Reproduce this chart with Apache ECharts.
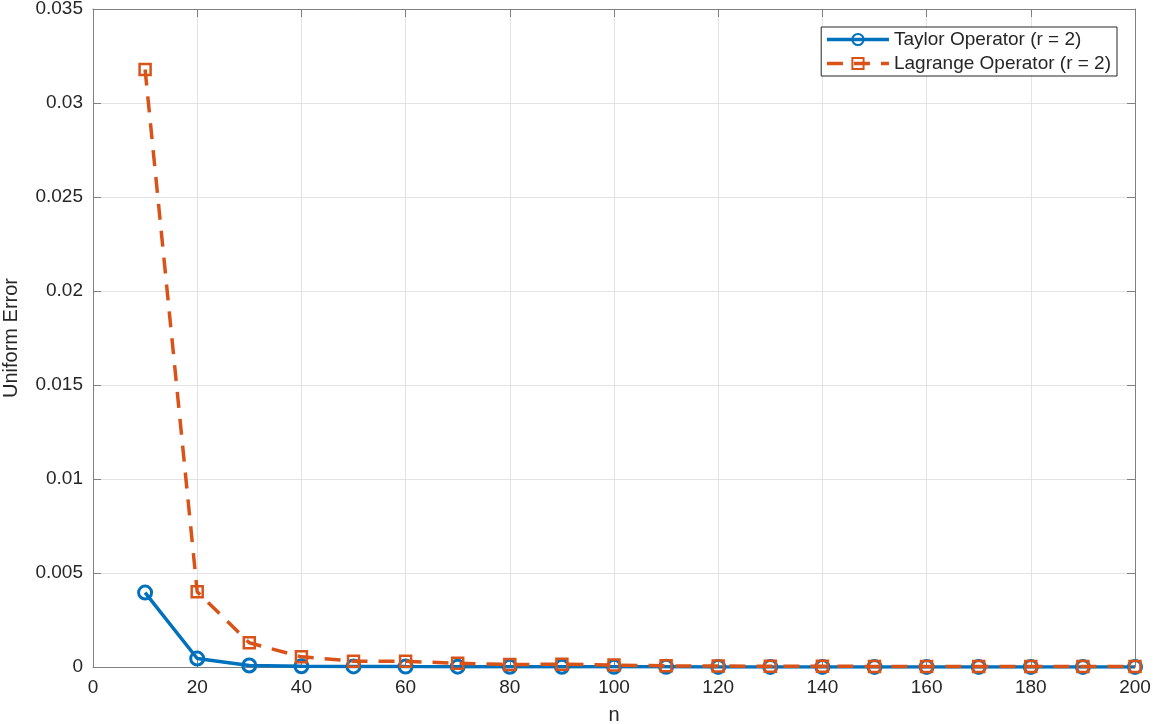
<!DOCTYPE html>
<html><head><meta charset="utf-8">
<script src="https://cdn.jsdelivr.net/npm/echarts@6/dist/echarts.min.js"></script>
<style>html,body{margin:0;padding:0;background:#fff}#c{width:1153px;height:724px}</style>
</head><body><div id="c"></div>
<script>
const nValues = [10,20,30,40,50,60,70,80,90,100,110,120,130,140,150,160,170,180,190,200];
const taylorErr = [0.00396,0.00045,0.00008,0.00004,0.00003,0.00002,0.000015,0.00001,0.00001,0.000008,0.000007,0.000006,0.000005,0.000004,0.000004,0.000003,0.000003,0.000003,0.000002,0.000002];
const lagrangeErr = [0.03178,0.0040,0.00129,0.00054,0.00031,0.00030,0.00020,0.00013,0.00015,0.00010,0.00006,0.00005,0.00004,0.00004,0.00003,0.00003,0.00003,0.00002,0.00002,0.00002];
const seriesNames = ['Taylor Operator (r = 2)','Lagrange Operator (r = 2)'];

const axisGray = '#808080';
const textCol = '#262626';
const font = 'Liberation Sans, Arial, Helvetica, sans-serif';
const chart = echarts.init(document.getElementById('c'), null, {renderer:'canvas'});
const pair = (xs, ys) => xs.map((x,i)=>[x,ys[i]]);
chart.setOption({
  animation:false,
  grid:{left:93,right:18,top:9,bottom:57,containLabel:false,outerBoundsMode:'none'},
  legend:{
    orient:'vertical', right:36, top:27, itemWidth:62, itemHeight:14, itemGap:5,
    padding:[3,6,3,4], borderColor:'#262626', borderWidth:1, backgroundColor:'#fff',
    textStyle:{fontFamily:font,fontSize:19,color:textCol},
    lineStyle:{width:3.5},
    data:seriesNames
  },
  xAxis:[{
    type:'value', min:0, max:200, interval:20, position:'bottom',
    name:'n', nameLocation:'middle', nameGap:38,
    nameTextStyle:{fontFamily:font,fontSize:20,color:textCol},
    axisLine:{show:true,onZero:false,lineStyle:{color:axisGray,width:1}},
    axisTick:{show:true,inside:true,length:8,lineStyle:{color:axisGray}},
    axisLabel:{fontFamily:font,fontSize:19,color:textCol,margin:11},
    splitLine:{show:true,lineStyle:{color:'#e3e3e3',width:1}}
  },{
    type:'value', min:0, max:200, interval:20, position:'top',
    axisLine:{show:true,onZero:false,lineStyle:{color:axisGray,width:1}},
    axisTick:{show:true,inside:true,length:8,lineStyle:{color:axisGray}},
    axisLabel:{show:false}, splitLine:{show:false}
  }],
  yAxis:[{
    type:'value', min:0, max:0.035, interval:0.005, position:'left',
    name:'Uniform Error', nameLocation:'middle', nameGap:72, nameRotate:90,
    nameTextStyle:{fontFamily:font,fontSize:20,color:textCol},
    axisLine:{show:true,onZero:false,lineStyle:{color:axisGray,width:1}},
    axisTick:{show:true,inside:true,length:8,lineStyle:{color:axisGray}},
    axisLabel:{fontFamily:font,fontSize:19,color:textCol,margin:10,
      formatter:v=>String(+v.toFixed(3))},
    splitLine:{show:true,lineStyle:{color:'#e3e3e3',width:1}}
  },{
    type:'value', min:0, max:0.035, interval:0.005, position:'right',
    axisLine:{show:true,onZero:false,lineStyle:{color:axisGray,width:1}},
    axisTick:{show:true,inside:true,length:8,lineStyle:{color:axisGray}},
    axisLabel:{show:false}, splitLine:{show:false}
  }],
  series:[{
    name:seriesNames[0], type:'line', xAxisIndex:0, yAxisIndex:0,
    data:pair(nValues,taylorErr),
    symbol:'circle', symbolSize:13, showAllSymbol:true,
    lineStyle:{color:'#0072BD',width:3.5},
    itemStyle:{color:'rgba(255,255,255,0)',borderColor:'#0072BD',borderWidth:3},
    z:3
  },{
    name:seriesNames[1], type:'line', xAxisIndex:0, yAxisIndex:0,
    data:pair(nValues,lagrangeErr),
    symbol:'rect', symbolSize:11, showAllSymbol:true,
    lineStyle:{color:'#D95319',width:3.5,type:[16,11]},
    itemStyle:{color:'rgba(255,255,255,0)',borderColor:'#D95319',borderWidth:2.5},
    z:4
  }]
});
</script></body></html>
